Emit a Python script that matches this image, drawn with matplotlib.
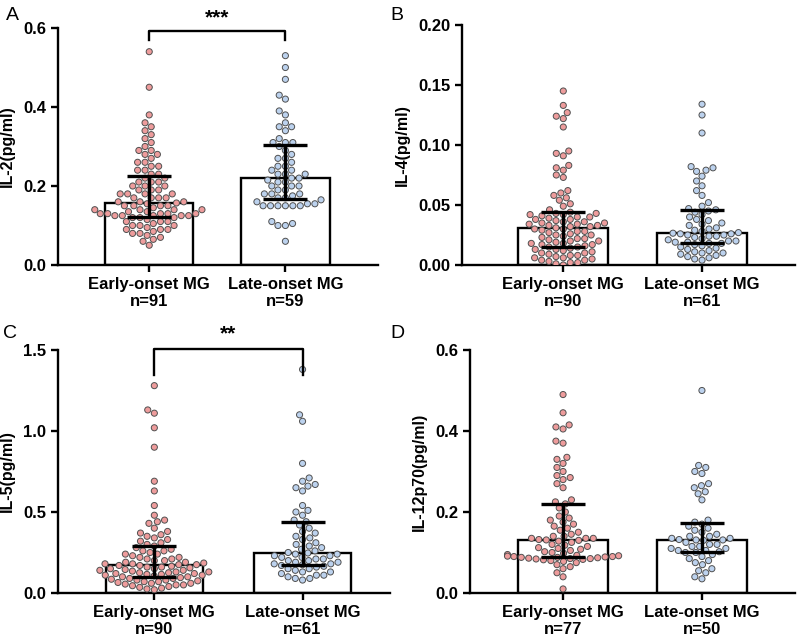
import warnings
import matplotlib
matplotlib.use('Agg')

import numpy as np
import pandas as pd
import matplotlib.pyplot as plt
import seaborn as sns

warnings.filterwarnings('ignore')

# values (pg/ml)
il2_early = [0.54, 0.45, 0.38, 0.36, 0.35, 0.34, 0.33, 0.32, 0.31, 0.30, 0.29, 0.29, 0.28, 0.28,
             0.27, 0.26, 0.26, 0.25, 0.25, 0.24, 0.24, 0.23, 0.23,
             0.22, 0.22, 0.21, 0.21, 0.21, 0.20, 0.20, 0.20, 0.19, 0.19, 0.19, 0.18, 0.18, 0.18,
             0.18, 0.17, 0.17, 0.17, 0.17, 0.16, 0.16, 0.16, 0.157,
             0.155, 0.15, 0.15, 0.15, 0.15, 0.145, 0.14, 0.14, 0.14, 0.14, 0.135, 0.135, 0.13,
             0.13, 0.13, 0.13, 0.13, 0.125, 0.125, 0.125, 0.125, 0.125,
             0.12, 0.12, 0.12, 0.115, 0.11, 0.11, 0.11, 0.105, 0.10, 0.10, 0.10, 0.095, 0.09,
             0.09, 0.09, 0.085, 0.08, 0.08, 0.075, 0.07, 0.065, 0.06, 0.05]
il2_late = [0.53, 0.50, 0.47, 0.43, 0.42, 0.39, 0.38, 0.36, 0.35, 0.35, 0.34, 0.32, 0.31, 0.31, 0.31,
            0.30, 0.29, 0.28, 0.27, 0.27, 0.26, 0.25, 0.25, 0.24, 0.24, 0.23, 0.23, 0.23, 0.22,
            0.22,
            0.215, 0.21, 0.21, 0.20, 0.20, 0.20, 0.19, 0.19, 0.18, 0.18, 0.18, 0.175, 0.17, 0.17,
            0.165, 0.16, 0.155, 0.155, 0.15, 0.15, 0.15, 0.15, 0.15, 0.15, 0.11, 0.105, 0.10,
            0.10, 0.06]

il4_early = [0.145, 0.133, 0.127, 0.124, 0.122, 0.115, 0.095, 0.093, 0.091, 0.083, 0.081, 0.079,
             0.075, 0.073, 0.062, 0.060, 0.058, 0.056, 0.054, 0.051, 0.049, 0.046,
             0.044, 0.043, 0.043, 0.042, 0.042, 0.041, 0.040, 0.040, 0.039, 0.038, 0.038, 0.037,
             0.036, 0.036, 0.035, 0.035, 0.034, 0.034, 0.033, 0.033, 0.032, 0.032,
             0.031, 0.030, 0.030, 0.029, 0.028, 0.028, 0.027, 0.026, 0.025, 0.025, 0.024, 0.023,
             0.022, 0.022, 0.021, 0.020, 0.020, 0.019, 0.018, 0.018, 0.017, 0.017,
             0.016, 0.015, 0.015, 0.014, 0.013, 0.013, 0.012, 0.011, 0.010, 0.010, 0.009, 0.008,
             0.008, 0.007, 0.006, 0.006, 0.005, 0.004, 0.004, 0.003, 0.002, 0.002, 0.001, 0.0]
il4_late = [0.134, 0.125, 0.110, 0.082, 0.081, 0.079, 0.078, 0.074, 0.070, 0.066, 0.062, 0.058,
            0.052, 0.049, 0.047,
            0.046, 0.045, 0.044, 0.042, 0.040, 0.038, 0.037, 0.035, 0.034, 0.033, 0.031, 0.030,
            0.029, 0.028, 0.027, 0.0265,
            0.026, 0.026, 0.025, 0.025, 0.024, 0.024, 0.023, 0.022, 0.021, 0.020, 0.020, 0.019,
            0.019, 0.018, 0.018,
            0.017, 0.016, 0.015, 0.014, 0.013, 0.012, 0.011, 0.010, 0.010, 0.009, 0.008, 0.007,
            0.006, 0.005, 0.004]

il5_early = [1.28, 1.13, 1.11, 1.02, 0.90, 0.69, 0.63, 0.54, 0.48, 0.45, 0.44, 0.43, 0.40, 0.38,
             0.37, 0.36, 0.35, 0.34, 0.33, 0.32, 0.31, 0.30,
             0.29, 0.28, 0.27, 0.26, 0.26, 0.25, 0.24, 0.24, 0.23, 0.22, 0.22, 0.21, 0.21, 0.20,
             0.20, 0.19, 0.19, 0.185, 0.18, 0.18, 0.175, 0.175,
             0.17, 0.17, 0.165, 0.16, 0.16, 0.155, 0.15, 0.15, 0.145, 0.14, 0.14, 0.135, 0.13,
             0.13, 0.125, 0.125, 0.12, 0.12, 0.115, 0.115, 0.11, 0.11,
             0.105, 0.10, 0.10, 0.095, 0.09, 0.09, 0.085, 0.08, 0.08, 0.075, 0.07, 0.07, 0.065,
             0.06, 0.06, 0.055, 0.05, 0.05, 0.045, 0.04, 0.035, 0.03, 0.025, 0.02]
il5_late = [1.38, 1.10, 1.06, 0.80, 0.71, 0.69, 0.67, 0.66, 0.65, 0.63, 0.54, 0.51, 0.50, 0.48, 0.45,
            0.44, 0.42, 0.40, 0.38, 0.37, 0.35, 0.34, 0.33, 0.31, 0.30, 0.29, 0.28, 0.27, 0.26,
            0.25, 0.247,
            0.24, 0.24, 0.23, 0.23, 0.22, 0.22, 0.21, 0.21, 0.20, 0.20, 0.19, 0.19, 0.18, 0.18,
            0.175,
            0.17, 0.165, 0.16, 0.15, 0.15, 0.14, 0.13, 0.13, 0.12, 0.11, 0.11, 0.10, 0.09, 0.09,
            0.08]

il12_early = [0.49, 0.445, 0.415, 0.41, 0.405, 0.375, 0.37, 0.335, 0.33, 0.32, 0.31, 0.30, 0.29,
              0.285, 0.28, 0.27, 0.26, 0.23, 0.225,
              0.22, 0.21, 0.20, 0.19, 0.185, 0.18, 0.175, 0.17, 0.165, 0.16, 0.155, 0.15, 0.145,
              0.14, 0.14, 0.135, 0.135, 0.135, 0.132, 0.131,
              0.13, 0.128, 0.125, 0.12, 0.118, 0.115, 0.112, 0.11, 0.108, 0.105, 0.102, 0.10,
              0.098, 0.095, 0.093, 0.092, 0.091, 0.09, 0.09,
              0.089, 0.088, 0.088, 0.087, 0.086, 0.085, 0.085, 0.084, 0.083, 0.082, 0.08, 0.078,
              0.075, 0.07, 0.065, 0.06, 0.05, 0.04, 0.01]
il12_late = [0.50, 0.315, 0.31, 0.30, 0.295, 0.27, 0.265, 0.26, 0.25, 0.245, 0.23, 0.18,
             0.175, 0.17, 0.165, 0.16, 0.155, 0.15, 0.145, 0.14, 0.14, 0.135, 0.135, 0.132,
             0.131, 0.131,
             0.13, 0.125, 0.12, 0.12, 0.115, 0.115, 0.11, 0.11, 0.105, 0.105, 0.102, 0.10,
             0.10, 0.095, 0.09, 0.085, 0.08, 0.075, 0.07, 0.06, 0.055, 0.05, 0.04, 0.035]

groups = ['Early-onset MG', 'Late-onset MG']
pink = '#EE9C9C'
blue = '#BCD2EE'

plt.rcParams['font.family'] = 'Liberation Sans'
plt.rcParams['font.weight'] = 'bold'
plt.rcParams['axes.labelweight'] = 'bold'

fig = plt.figure(figsize=(7.97, 6.41), dpi=100)
W, H = 797.0, 641.0


def make_axes(left, right, top, bottom):
    return fig.add_axes([left / W, 1 - bottom / H, (right - left) / W, (bottom - top) / H])


def panel(ax, early, late, ylabel, ylim, yticks, fmt, xlim):
    ax.set_xlim(*xlim)
    ax.set_ylim(*ylim)
    for i, vals in enumerate([early, late]):
        q1, med, q3 = np.percentile(vals, [25, 50, 75])
        ax.bar(i, med, width=0.65, facecolor='white', edgecolor='black', linewidth=1.7, zorder=1)
    df = pd.DataFrame({'g': [groups[0]] * len(early) + [groups[1]] * len(late),
                       'v': list(early) + list(late)})
    sns.swarmplot(data=df, x='g', y='v', hue='g', palette=[pink, blue], size=4.4,
                  linewidth=0.7, edgecolor='#505050', legend=False, ax=ax, zorder=3)
    for i, vals in enumerate([early, late]):
        q1, med, q3 = np.percentile(vals, [25, 50, 75])
        ax.errorbar(i, med, yerr=[[med - q1], [q3 - med]], fmt='none', ecolor='black',
                    elinewidth=2.4, capsize=16, capthick=2.4, zorder=4)
    ax.set_xlim(*xlim)
    ax.set_ylim(*ylim)
    ax.set_yticks(yticks)
    ax.set_yticklabels([fmt % t for t in yticks])
    ax.set_xticks([0, 1])
    ax.set_xticklabels(['%s\nn=%d' % (groups[0], len(early)),
                        '%s\nn=%d' % (groups[1], len(late))], fontsize=11.5, fontweight='bold')
    ax.set_xlabel('')
    ax.set_ylabel(ylabel, fontsize=11.5, fontweight='bold', labelpad=6)
    ax.spines['top'].set_visible(False)
    ax.spines['right'].set_visible(False)
    ax.spines['left'].set_linewidth(1.7)
    ax.spines['bottom'].set_linewidth(1.7)
    ax.tick_params(width=1.7, length=5, labelsize=12)


def bracket(ax, y_top, y_low, label, text_y):
    ax.plot([0, 0, 1, 1], [y_low, y_top, y_top, y_low], color='black', lw=1.7,
            clip_on=False, zorder=5)
    ax.text(0.5, text_y, label, ha='center', va='center', fontsize=15, fontweight='bold',
            clip_on=False)


axA = make_axes(58, 378, 28, 265)
panel(axA, il2_early, il2_late, 'IL-2(pg/ml)', (0, 0.6), [0, 0.2, 0.4, 0.6], '%.1f',
      (-0.67, 1.68))
bracket(axA, 0.592, 0.57, '***', 0.625)

axB = make_axes(462, 795, 25, 265)
panel(axB, il4_early, il4_late, 'IL-4(pg/ml)', (0, 0.2), [0, 0.05, 0.10, 0.15, 0.20], '%.2f',
      (-0.73, 1.67))

axC = make_axes(58, 390, 350, 593)
panel(axC, il5_early, il5_late, 'IL-5(pg/ml)', (0, 1.5), [0, 0.5, 1.0, 1.5], '%.1f',
      (-0.65, 1.59))
bracket(axC, 1.506, 1.346, '**', 1.60)

axD = make_axes(470, 795, 350, 593)
panel(axD, il12_early, il12_late, 'IL-12p70(pg/ml)', (0, 0.6), [0, 0.2, 0.4, 0.6], '%.1f',
      (-0.67, 1.67))

for lab, x, y in [('A', 12, 15), ('B', 397, 15), ('C', 10, 333), ('D', 397, 333)]:
    fig.text(x / W, 1 - y / H, lab, fontsize=14, fontweight='normal', ha='center', va='center')

fig.savefig('out.png', dpi=100)
